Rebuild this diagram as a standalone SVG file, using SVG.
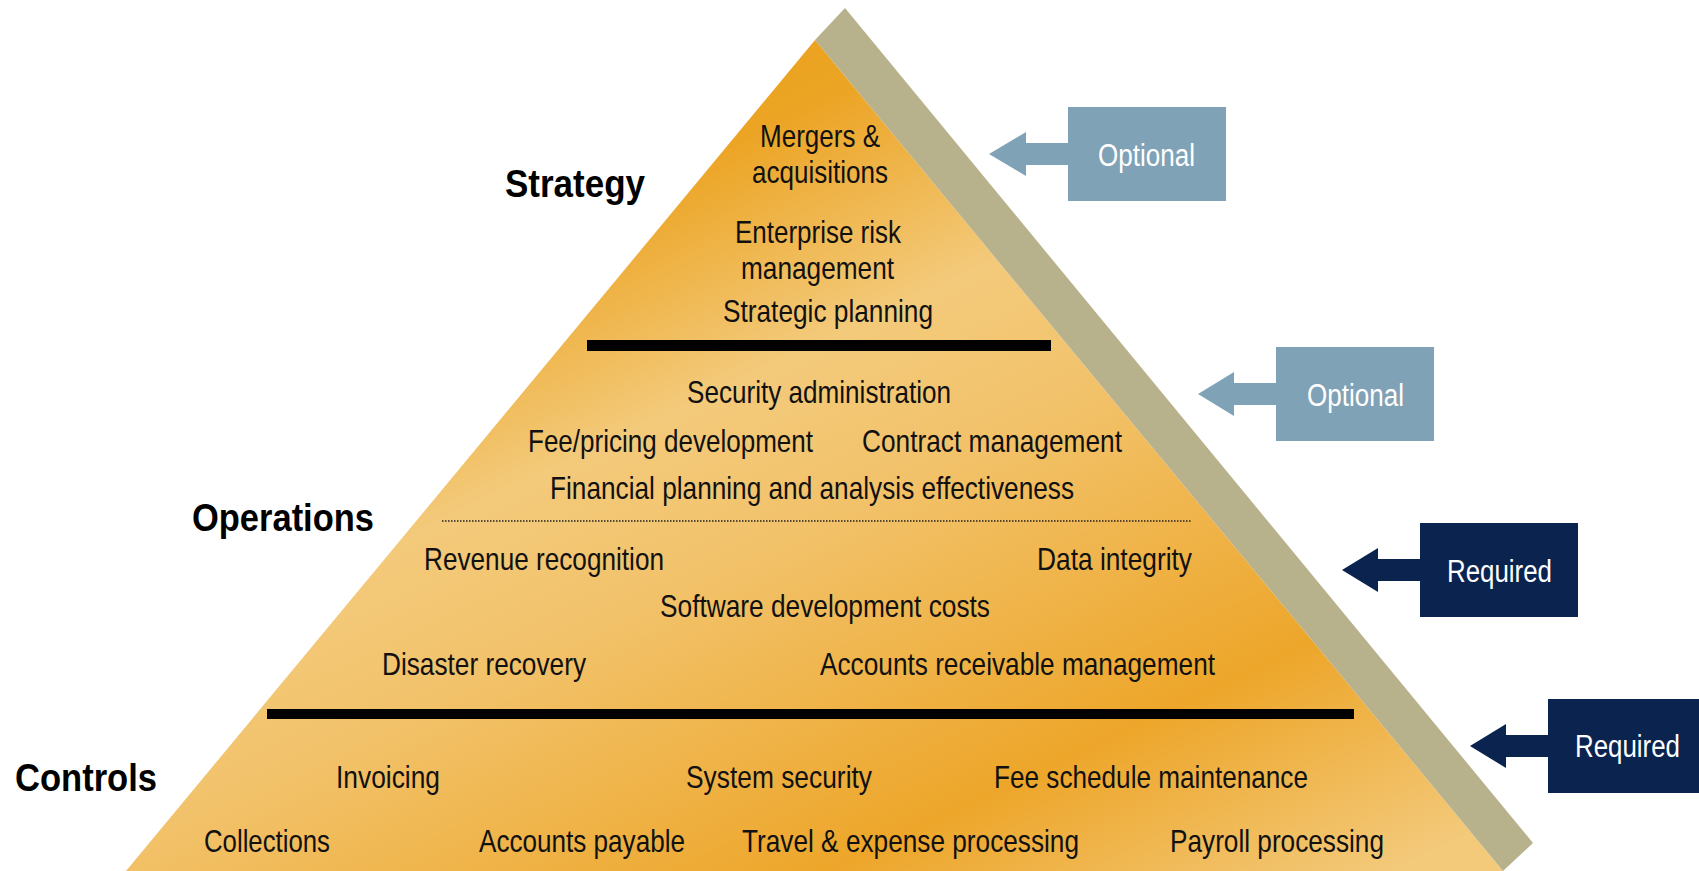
<svg xmlns="http://www.w3.org/2000/svg" width="1699" height="871" viewBox="0 0 1699 871">
<style>
.t{font-family:"Liberation Sans Narrow","Arial Narrow","Liberation Sans",Arial,sans-serif;font-size:30.5px;fill:#111;}
.lbl{font-family:"Liberation Sans",Arial,sans-serif;font-size:38px;font-weight:bold;fill:#000;}
.ct{font-family:"Liberation Sans Narrow","Arial Narrow","Liberation Sans",Arial,sans-serif;font-size:31px;fill:#fff;}
.opt{fill:#7FA2B6;}
.req{fill:#0A234F;}
.bar{fill:#000;}
</style>
<defs>
<linearGradient id="gold" gradientUnits="userSpaceOnUse" x1="170" y1="362" x2="596" y2="1267">
<stop offset="0" stop-color="#EBA321"/>
<stop offset="0.04" stop-color="#ECA424"/>
<stop offset="0.26" stop-color="#F3CA7B"/>
<stop offset="0.42" stop-color="#F2C26A"/>
<stop offset="0.74" stop-color="#EDA62A"/>
<stop offset="0.98" stop-color="#F3C97A"/>
</linearGradient>
</defs>
<rect width="1699" height="871" fill="#fff"/>
<g id="pyramid">
<polygon points="815,40 1503,871 126,871" fill="url(#gold)"/>
<polygon points="815,40 845,8 1533,843 1503,871" fill="#B7B18C"/>
<rect class="bar" x="587" y="340" width="464" height="11"/>
<rect class="bar" x="267" y="709" width="1087" height="10"/>
<line x1="442" y1="521" x2="1192" y2="521" stroke="#222" stroke-width="1.5" stroke-dasharray="1.5 1.5"/>
</g>
<g id="tier-labels">
<text class="lbl" x="505" y="197" textLength="140" lengthAdjust="spacingAndGlyphs">Strategy</text>
<text class="lbl" x="192" y="531" textLength="182" lengthAdjust="spacingAndGlyphs">Operations</text>
<text class="lbl" x="15" y="791" textLength="142" lengthAdjust="spacingAndGlyphs">Controls</text>
</g>
<g id="strategy-items">
<text class="t" x="760" y="147" textLength="120" lengthAdjust="spacingAndGlyphs">Mergers &amp;</text>
<text class="t" x="752" y="183" textLength="136" lengthAdjust="spacingAndGlyphs">acquisitions</text>
<text class="t" x="735" y="243" textLength="166" lengthAdjust="spacingAndGlyphs">Enterprise risk</text>
<text class="t" x="741" y="279" textLength="153" lengthAdjust="spacingAndGlyphs">management</text>
<text class="t" x="723" y="322" textLength="210" lengthAdjust="spacingAndGlyphs">Strategic planning</text>
</g>
<g id="operations-items">
<text class="t" x="687" y="403" textLength="264" lengthAdjust="spacingAndGlyphs">Security administration</text>
<text class="t" x="528" y="452" textLength="285" lengthAdjust="spacingAndGlyphs">Fee/pricing development</text>
<text class="t" x="862" y="452" textLength="260" lengthAdjust="spacingAndGlyphs">Contract management</text>
<text class="t" x="550" y="499" textLength="524" lengthAdjust="spacingAndGlyphs">Financial planning and analysis effectiveness</text>
<text class="t" x="424" y="570" textLength="240" lengthAdjust="spacingAndGlyphs">Revenue recognition</text>
<text class="t" x="1037" y="570" textLength="155" lengthAdjust="spacingAndGlyphs">Data integrity</text>
<text class="t" x="660" y="617" textLength="330" lengthAdjust="spacingAndGlyphs">Software development costs</text>
<text class="t" x="382" y="675" textLength="204" lengthAdjust="spacingAndGlyphs">Disaster recovery</text>
<text class="t" x="820" y="675" textLength="395" lengthAdjust="spacingAndGlyphs">Accounts receivable management</text>
</g>
<g id="controls-items">
<text class="t" x="336" y="788" textLength="104" lengthAdjust="spacingAndGlyphs">Invoicing</text>
<text class="t" x="686" y="788" textLength="186" lengthAdjust="spacingAndGlyphs">System security</text>
<text class="t" x="994" y="788" textLength="314" lengthAdjust="spacingAndGlyphs">Fee schedule maintenance</text>
<text class="t" x="204" y="852" textLength="126" lengthAdjust="spacingAndGlyphs">Collections</text>
<text class="t" x="479" y="852" textLength="206" lengthAdjust="spacingAndGlyphs">Accounts payable</text>
<text class="t" x="742" y="852" textLength="337" lengthAdjust="spacingAndGlyphs">Travel &amp; expense processing</text>
<text class="t" x="1170" y="852" textLength="214" lengthAdjust="spacingAndGlyphs">Payroll processing</text>
</g>
<g id="connectors">
<polygon class="opt" points="989,154 1026,132 1026,143 1068,143 1068,165 1026,165 1026,176"/>
<polygon class="opt" points="1198,394 1234,372 1234,383 1276,383 1276,405 1234,405 1234,416"/>
<polygon class="req" points="1342,570 1378,548 1378,559 1420,559 1420,581 1378,581 1378,592"/>
<polygon class="req" points="1470,746 1506,724 1506,735 1548,735 1548,757 1506,757 1506,768"/>
</g>
<g id="callout-strategy">
<rect class="opt" x="1068" y="107" width="158" height="94"/>
<text class="ct" x="1098" y="166" textLength="97" lengthAdjust="spacingAndGlyphs">Optional</text>
</g>
<g id="callout-operations">
<rect class="opt" x="1276" y="347" width="158" height="94"/>
<text class="ct" x="1307" y="406" textLength="97" lengthAdjust="spacingAndGlyphs">Optional</text>
</g>
<g id="callout-operations-lower">
<rect class="req" x="1420" y="523" width="158" height="94"/>
<text class="ct" x="1447" y="582" textLength="105" lengthAdjust="spacingAndGlyphs">Required</text>
</g>
<g id="callout-controls">
<rect class="req" x="1548" y="699" width="158" height="94"/>
<text class="ct" x="1575" y="757" textLength="105" lengthAdjust="spacingAndGlyphs">Required</text>
</g>
</svg>
